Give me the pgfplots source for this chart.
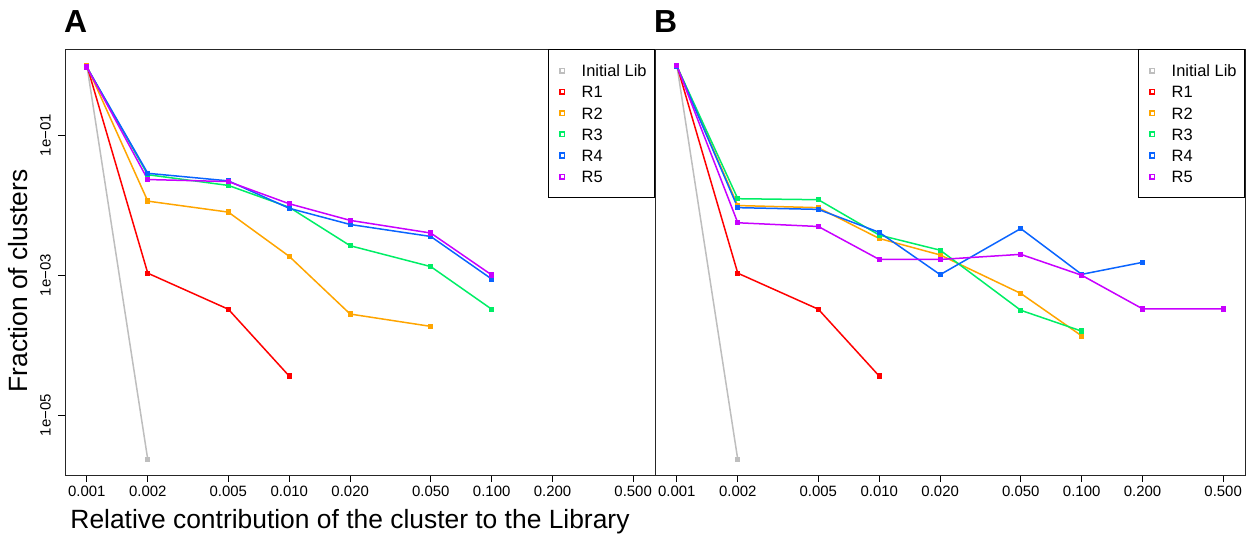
\documentclass[border=0pt]{standalone}
\usepackage{pgfplots}
\pgfplotsset{compat=1.18}
\usepackage{fontspec}
\setmainfont{Liberation Sans}
\definecolor{cInit}{HTML}{BEBEBE}
\definecolor{cR1}{HTML}{FF0000}
\definecolor{cR2}{HTML}{FFA500}
\definecolor{cR3}{HTML}{00EE66}
\definecolor{cR4}{HTML}{0A64FF}
\definecolor{cR5}{HTML}{C800FF}
\begin{document}
\begin{tikzpicture}
\useasboundingbox (0,0) rectangle (1254bp,537bp);
% Panel A
\begin{axis}[at={(65bp,62bp)}, anchor=south west,
    scale only axis, width=590bp, height=425.7bp,
    xmode=log, ymode=log,
    xmin=0.00078, xmax=0.641,
    ymin=1.40e-6, ymax=1.69,
    axis line style={line width=0.9bp, black!85},
    tick align=outside, major tick length=7bp,
    tick style={black, line width=0.8bp},
    minor tick style={draw=none},
    xtick pos=bottom, ytick pos=left,
    xtick={0.001,0.002,0.005,0.01,0.02,0.05,0.1,0.2,0.5},
    xticklabels={0.001,0.002,0.005,0.010,0.020,0.050,0.100,0.200,0.500},
    xticklabel style={font=\fontsize{15}{18}\selectfont, inner sep=0pt, anchor=north, yshift=-4bp},
    clip=false,
    legend style={at={(1,1)}, anchor=north east, draw=black, line width=0.8bp,
      font=\fontsize{16.5}{19}\selectfont, inner xsep=8bp, inner ysep=15bp,
      row sep=9.2bp, column sep=17bp,
      nodes={inner sep=0pt, text height=12bp, text depth=0bp},
      cells={anchor=west}},
    legend image code/.code={\path[draw=none,fill=none] (-6bp,-2bp) rectangle (2bp,2bp);
      \draw[only marks, mark=square*, mark size=2.4bp] plot coordinates {(0bp,0bp)};
      \fill[white] (-0.7bp,-0.7bp) rectangle (0.7bp,0.7bp);},
  ytick={1e-1,1e-3,1e-5},
  yticklabels={1e−01,1e−03,1e−05},
  yticklabel style={font=\fontsize{15}{18}\selectfont, inner sep=0pt, rotate=90, anchor=south, yshift=7bp}]
\addplot[color=cInit, line width=1.5bp, mark=square*, mark size=1.9bp] coordinates {(0.001,0.99999) (0.002,2.33e-6)};
\addlegendentry{Initial Lib}
\addplot[color=cR1, line width=1.5bp, mark=square*, mark size=1.9bp] coordinates {(0.001,0.9989) (0.002,1.07e-3) (0.005,3.27e-4) (0.01,3.62e-5)};
\addlegendentry{R1}
\addplot[color=cR2, line width=1.5bp, mark=square*, mark size=1.9bp] coordinates {(0.001,0.98) (0.002,0.01145) (0.005,7.98e-3) (0.01,1.86e-3) (0.02,2.79e-4) (0.05,1.86e-4)};
\addlegendentry{R2}
\addplot[color=cR3, line width=1.5bp, mark=square*, mark size=1.9bp] coordinates {(0.001,0.94) (0.002,0.0273) (0.005,0.0192) (0.01,9.35e-3) (0.02,2.64e-3) (0.05,1.33e-3) (0.1,3.27e-4)};
\addlegendentry{R3}
\addplot[color=cR4, line width=1.5bp, mark=square*, mark size=1.9bp] coordinates {(0.001,0.94) (0.002,0.0286) (0.005,0.0223) (0.01,9.04e-3) (0.02,5.31e-3) (0.05,3.58e-3) (0.1,8.83e-4)};
\addlegendentry{R4}
\addplot[color=cR5, line width=1.5bp, mark=square*, mark size=1.9bp] coordinates {(0.001,0.94) (0.002,0.0233) (0.005,0.0218) (0.01,0.0105) (0.02,6.08e-3) (0.05,4.01e-3) (0.1,1.01e-3)};
\addlegendentry{R5}
\end{axis}
% Panel B
\begin{axis}[at={(655bp,62bp)}, anchor=south west,
    scale only axis, width=590bp, height=425.7bp,
    xmode=log, ymode=log,
    xmin=0.00078, xmax=0.641,
    ymin=1.40e-6, ymax=1.69,
    axis line style={line width=0.9bp, black!85},
    tick align=outside, major tick length=7bp,
    tick style={black, line width=0.8bp},
    minor tick style={draw=none},
    xtick pos=bottom, ytick pos=left,
    xtick={0.001,0.002,0.005,0.01,0.02,0.05,0.1,0.2,0.5},
    xticklabels={0.001,0.002,0.005,0.010,0.020,0.050,0.100,0.200,0.500},
    xticklabel style={font=\fontsize{15}{18}\selectfont, inner sep=0pt, anchor=north, yshift=-4bp},
    clip=false,
    legend style={at={(1,1)}, anchor=north east, draw=black, line width=0.8bp,
      font=\fontsize{16.5}{19}\selectfont, inner xsep=8bp, inner ysep=15bp,
      row sep=9.2bp, column sep=17bp,
      nodes={inner sep=0pt, text height=12bp, text depth=0bp},
      cells={anchor=west}},
    legend image code/.code={\path[draw=none,fill=none] (-6bp,-2bp) rectangle (2bp,2bp);
      \draw[only marks, mark=square*, mark size=2.4bp] plot coordinates {(0bp,0bp)};
      \fill[white] (-0.7bp,-0.7bp) rectangle (0.7bp,0.7bp);},
  ytick=\empty]
\addplot[color=cInit, line width=1.5bp, mark=square*, mark size=1.9bp] coordinates {(0.001,0.99999) (0.002,2.33e-6)};
\addlegendentry{Initial Lib}
\addplot[color=cR1, line width=1.5bp, mark=square*, mark size=1.9bp] coordinates {(0.001,0.9989) (0.002,1.07e-3) (0.005,3.27e-4) (0.01,3.62e-5)};
\addlegendentry{R1}
\addplot[color=cR2, line width=1.5bp, mark=square*, mark size=1.9bp] coordinates {(0.001,0.98) (0.002,9.9e-3) (0.005,9.24e-3) (0.01,3.35e-3) (0.02,1.95e-3) (0.05,5.5e-4) (0.1,1.36e-4)};
\addlegendentry{R2}
\addplot[color=cR3, line width=1.5bp, mark=square*, mark size=1.9bp] coordinates {(0.001,0.97) (0.002,0.0124) (0.005,0.0120) (0.01,3.75e-3) (0.02,2.28e-3) (0.05,3.16e-4) (0.1,1.59e-4)};
\addlegendentry{R3}
\addplot[color=cR4, line width=1.5bp, mark=square*, mark size=1.9bp] coordinates {(0.001,0.97) (0.002,9.24e-3) (0.005,8.73e-3) (0.01,4.1e-3) (0.02,1.02e-3) (0.05,4.64e-3) (0.1,1.03e-3) (0.2,1.53e-3)};
\addlegendentry{R4}
\addplot[color=cR5, line width=1.5bp, mark=square*, mark size=1.9bp] coordinates {(0.001,0.985) (0.002,5.62e-3) (0.005,4.97e-3) (0.01,1.68e-3) (0.02,1.68e-3) (0.05,1.99e-3) (0.1,1.0e-3) (0.2,3.31e-4) (0.5,3.31e-4)};
\addlegendentry{R5}
\end{axis}
\node[anchor=base west, inner sep=0pt, font=\fontsize{32}{36}\selectfont\bfseries] at (64bp,504bp) {A};
\node[anchor=base west, inner sep=0pt, font=\fontsize{32}{36}\selectfont\bfseries] at (654bp,504bp) {B};
\node[anchor=base, inner sep=0pt, font=\fontsize{26.5}{30}\selectfont] at (350bp,8.5bp) {Relative contribution of the cluster to the Library};
\node[anchor=base, inner sep=0pt, rotate=90, font=\fontsize{26.5}{30}\selectfont] at (27bp,256bp) {Fraction of clusters};
\end{tikzpicture}
\end{document}
